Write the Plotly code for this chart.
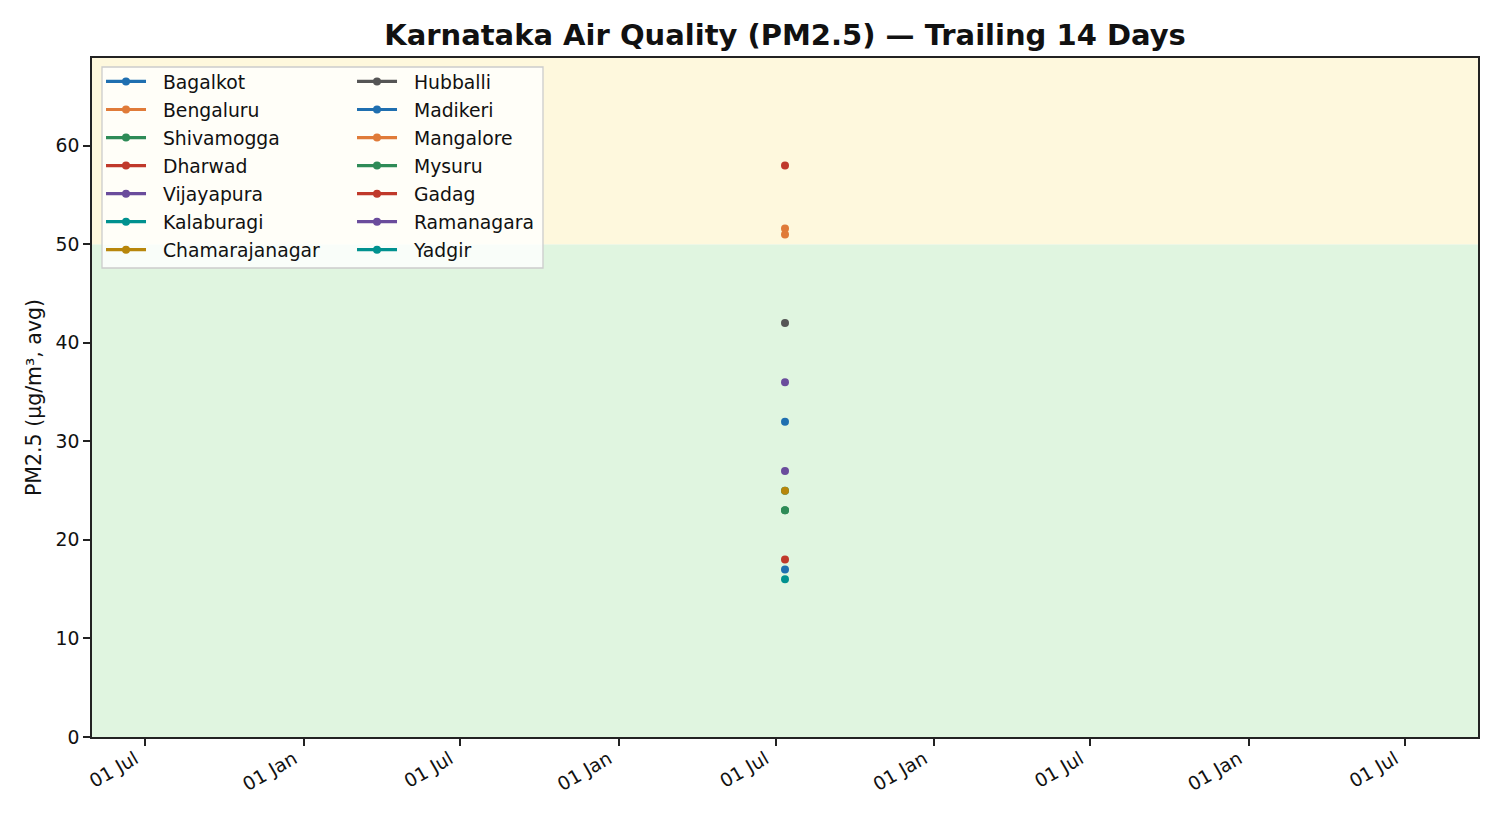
import plotly.graph_objects as go
import pandas as pd

cities = ["Bagalkot", "Bengaluru", "Shivamogga", "Dharwad", "Vijayapura", "Kalaburagi",
          "Chamarajanagar", "Hubballi", "Madikeri", "Mangalore", "Mysuru", "Gadag",
          "Ramanagara", "Yadgir"]
pm25 = [17, 51.6, 23, 18, 36, 25, 25, 42, 32, 51.0, 23, 58, 27, 16]
colors = ["#1f6fb0", "#e07b39", "#2e8b57", "#c0392b", "#6a4c9c", "#00918f",
          "#b8860b", "#555555", "#1f6fb0", "#e07b39", "#2e8b57", "#c0392b",
          "#6a4c9c", "#00918f"]
obs_date = "2024-07-12"
tick_dates = ["2022-07-01", "2023-01-01", "2023-07-01", "2024-01-01", "2024-07-01",
              "2025-01-01", "2025-07-01", "2026-01-01", "2026-07-01"]
tick_text = ["01 Jul", "01 Jan", "01 Jul", "01 Jan", "01 Jul", "01 Jan", "01 Jul", "01 Jan", "01 Jul"]
threshold = 50
y_max = 68.9

d = pd.Timestamp(obs_date)
half = pd.Timedelta(days=803.6)
x_range = [(d - half).isoformat(), (d + half).isoformat()]

fig = go.Figure()
for i, (c, v, col) in enumerate(zip(cities, pm25, colors)):
    fig.add_trace(go.Scatter(
        x=[obs_date], y=[v], name="\u00a0\u00a0" + c, mode="lines+markers",
        line=dict(color=col, width=3.2), marker=dict(color=col, size=8),
        legendgroup=c, legend="legend" if i < 7 else "legend2",
        hoverinfo="name+y"))

font = "DejaVu Sans, Arial, sans-serif"
legend_common = dict(bgcolor="rgba(0,0,0,0)", borderwidth=0, font=dict(size=18.8, family=font, color="#111"),
                     traceorder="grouped", tracegroupgap=0.6, itemwidth=40,
                     xanchor="left", yanchor="top", y=0.993)

fig.update_layout(
    width=1500, height=825,
    margin=dict(l=92, r=22, t=58, b=88),
    paper_bgcolor="white", plot_bgcolor="white",
    font=dict(family=font, size=18.8, color="#111"),
    title=dict(text="<b>Karnataka Air Quality (PM2.5) — Trailing 14 Days</b>",
               x=(92 + 1478) / 2 / 1500, xanchor="center", y=1 - 35 / 825, yanchor="middle",
               font=dict(size=29, family=font, color="#111")),
    legend=dict(x=0.0065, **legend_common),
    legend2=dict(x=0.1876, **legend_common),
    showlegend=True,
    shapes=[
        dict(type="rect", xref="x domain", yref="y", x0=0, x1=1, y0=0, y1=threshold,
             fillcolor="#e0f5e0", line=dict(width=0), layer="below"),
        dict(type="rect", xref="x domain", yref="y", x0=0, x1=1, y0=threshold, y1=y_max,
             fillcolor="#fef8dd", line=dict(width=0), layer="below"),
        dict(type="rect", xref="paper", yref="paper",
             x0=(102 - 92) / 1386, x1=(543 - 92) / 1386,
             y0=(737 - 268) / 679, y1=(737 - 67) / 679,
             fillcolor="rgba(255,255,255,0.8)", line=dict(color="#cccccc", width=1.3), layer="below"),
    ],
)
fig.update_xaxes(type="date", range=x_range, tickvals=tick_dates, ticktext=tick_text,
                 tickangle=-30, ticks="outside", ticklen=7, tickwidth=1.6, tickcolor="#222",
                 showline=True, linecolor="#222", linewidth=1.6, mirror=True,
                 ticklabelshift=-10, ticklabelstandoff=-5,
                 showgrid=False, zeroline=False, tickfont=dict(size=18.8, color="#111"))
fig.update_yaxes(range=[0, y_max], tickvals=[0, 10, 20, 30, 40, 50, 60],
                 ticks="outside", ticklen=7, tickwidth=1.6, tickcolor="#222",
                 showline=True, linecolor="#222", linewidth=1.6, mirror=True,
                 showgrid=False, zeroline=False, tickfont=dict(size=18.8, color="#111"),
                 title=dict(text="PM2.5 (µg/m³, avg)", font=dict(size=20.5, color="#111"), standoff=8))
fig.write_html("out.html")
